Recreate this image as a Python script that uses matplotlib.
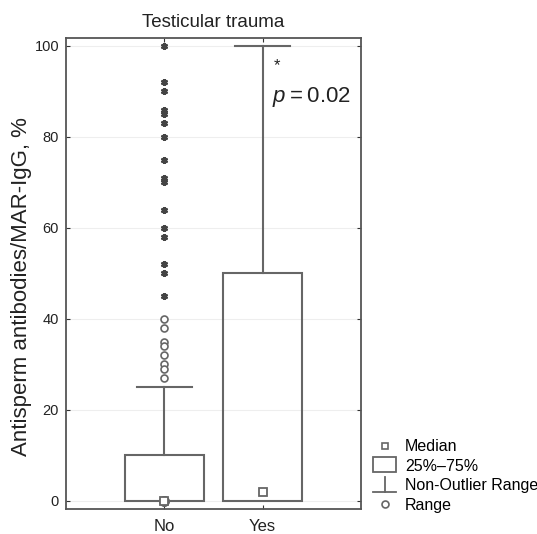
import matplotlib
matplotlib.use("Agg")
import matplotlib.pyplot as plt
from matplotlib.lines import Line2D
from matplotlib.patches import Rectangle
from matplotlib.legend_handler import HandlerBase

plt.rcParams['font.family'] = ['Liberation Sans', 'DejaVu Sans']
plt.rcParams['mathtext.fontset'] = 'custom'
plt.rcParams['mathtext.it'] = 'Liberation Sans:italic'
plt.rcParams['mathtext.rm'] = 'Liberation Sans'

categories = ["No", "Yes"]
q1 = [0, 0]
q3 = [10, 50]
medians = [0, 2]
whisk_low = [0, 0]
whisk_high = [25, 100]
range_min = [0, 0]
outliers_no = [40, 38, 35, 34, 32, 30, 29, 27]
extremes_no = [100, 92, 90, 86, 85, 83, 80, 75, 71, 70, 64, 60, 58, 52, 50, 45]

grey = "#666666"
dark = "#444444"

fig = plt.figure(figsize=(5.37, 5.34), dpi=100)
ax = fig.add_axes([0.1229, 0.0468, 0.5493, 0.8826])

pos = [1, 2]
bw = 0.8
cap = 0.56
for i, p in enumerate(pos):
    ax.add_patch(Rectangle((p - bw / 2, q1[i]), bw, q3[i] - q1[i],
                           fill=False, edgecolor=grey, lw=1.5, zorder=3))
    ax.plot([p, p], [q3[i], whisk_high[i]], color=grey, lw=1.5, zorder=2)
    ax.plot([p - cap / 2, p + cap / 2], [whisk_high[i], whisk_high[i]], color=grey, lw=1.5, zorder=2)
    ax.plot([p], [medians[i]], marker='s', ms=5.5, mfc='white', mec=grey, mew=1.3, zorder=5)

ax.plot([pos[0]] * len(outliers_no), outliers_no, linestyle='none', marker='o', ms=5,
        mfc='white', mec=grey, mew=1.2, zorder=4)
ax.plot([pos[0]] * len(range_min), range_min, linestyle='none', marker='o', ms=6.5,
        mfc='none', mec=grey, mew=1.2, zorder=4)
ax.plot([pos[0]] * len(extremes_no), extremes_no, linestyle='none', marker=(6, 2, 0), ms=5,
        mec=dark, mew=1.6, zorder=4)

ax.text(2.15, 95.6, "*", fontsize=12, ha='center', va='center', color='#222222')
ax.text(2.1, 88.8, "$p$\u2009=\u20090.02", fontsize=16, ha='left', va='center', color='#222222')

ax.set_xlim(0, 3)
ax.set_ylim(-1.76, 101.8)
ax.set_xticks(pos)
ax.set_xticklabels(categories, fontsize=12)
ax.set_yticks([0, 20, 40, 60, 80, 100])
ax.tick_params(axis='both', direction='in', length=3, top=True, right=True,
               colors='#333333', labelcolor='#222222')
ax.tick_params(axis='y', labelsize=10.5, pad=5)
ax.tick_params(axis='x', pad=7)
ax.grid(axis='y', color='#eeeeee', lw=0.8)
ax.set_axisbelow(True)
for s in ax.spines.values():
    s.set_color('#555555')
    s.set_linewidth(1.3)

ax.set_title("Testicular trauma", fontsize=13.5, color='#222222', pad=8)
ax.set_ylabel("Antisperm antibodies/MAR-IgG, %", fontsize=16, color='#222222')
ax.yaxis.set_label_coords(-0.115, 0.473)


class WhiskerHandler(HandlerBase):
    def create_artists(self, legend, orig_handle, xdescent, ydescent, width, height, fontsize, trans):
        cx = width / 2 - xdescent
        top = height * 1.2
        bot = -ydescent - 1
        l1 = Line2D([cx, cx], [bot, top], color=grey, lw=1.3, transform=trans)
        l2 = Line2D([-xdescent, width - xdescent], [bot, bot], color=grey, lw=1.3, transform=trans)
        return [l1, l2]


class BoxHandler(HandlerBase):
    def create_artists(self, legend, orig_handle, xdescent, ydescent, width, height, fontsize, trans):
        r = Rectangle((-xdescent, -ydescent - 1), width, height + 3, fill=False,
                      edgecolor=grey, lw=1.3, transform=trans)
        return [r]


h_med = Line2D([], [], linestyle='none', marker='s', ms=5, mfc='white', mec=grey, mew=1.2)
h_box = Rectangle((0, 0), 1, 1)
h_wh = Line2D([], [])
h_rng = Line2D([], [], linestyle='none', marker='o', ms=5, mfc='white', mec=grey, mew=1.2)

leg = fig.legend([h_med, h_box, h_wh, h_rng],
                 ["Median", "25%\u201375%", "Non-Outlier Range", "Range"],
                 handler_map={Rectangle: BoxHandler(), h_wh: WhiskerHandler()},
                 loc='upper left', bbox_to_anchor=(0.695, 0.177), frameon=False,
                 fontsize=11.5, handlelength=1.45, handletextpad=0.55, labelspacing=0.28,
                 borderaxespad=0, borderpad=0)

fig.savefig("out.png", dpi=100)
